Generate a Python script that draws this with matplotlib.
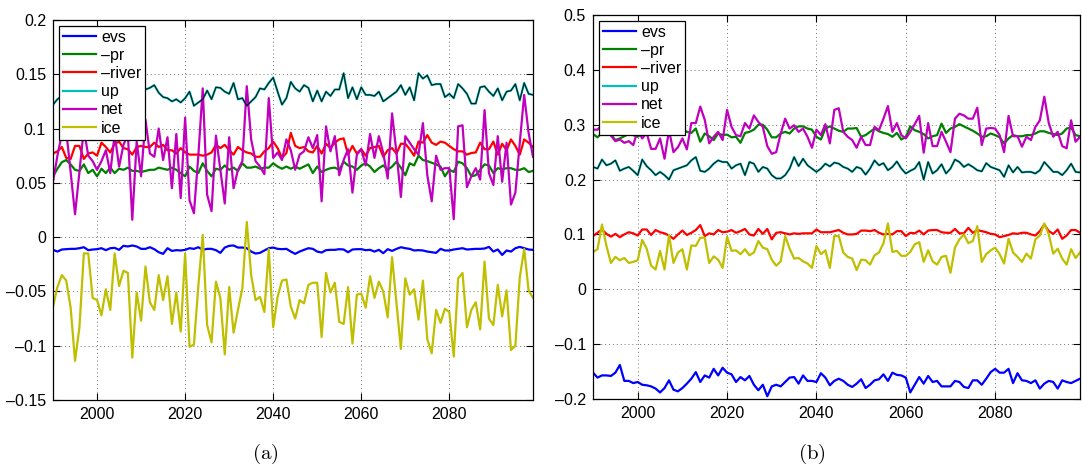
import numpy as np
import matplotlib
matplotlib.use('Agg')
import matplotlib.pyplot as plt

plt.rcParams['font.family'] = ['Liberation Sans', 'DejaVu Sans']
plt.rcParams['mathtext.fontset'] = 'cm'

years = np.arange(1990, 2100)

# ---- panel (a) ----
evs_a = [-0.0117, -0.0133, -0.0114, -0.0111, -0.0108, -0.0108, -0.0102, -0.0093, -0.0120, -0.0114,
         -0.0111, -0.0102, -0.0120, -0.0102, -0.0099, -0.0117, -0.0080, -0.0086, -0.0077, -0.0086,
         -0.0108, -0.0108, -0.0093, -0.0111, -0.0139, -0.0154, -0.0102, -0.0127, -0.0120, -0.0123,
         -0.0117, -0.0102, -0.0108, -0.0093, -0.0117, -0.0108, -0.0108, -0.0120, -0.0145, -0.0096,
         -0.0080, -0.0077, -0.0096, -0.0096, -0.0102, -0.0133, -0.0151, -0.0145, -0.0123, -0.0102,
         -0.0096, -0.0108, -0.0111, -0.0108, -0.0133, -0.0154, -0.0133, -0.0117, -0.0102, -0.0108,
         -0.0133, -0.0142, -0.0120, -0.0117, -0.0117, -0.0111, -0.0114, -0.0139, -0.0114, -0.0111,
         -0.0111, -0.0120, -0.0117, -0.0133, -0.0117, -0.0148, -0.0111, -0.0127, -0.0108, -0.0093,
         -0.0102, -0.0108, -0.0123, -0.0120, -0.0123, -0.0133, -0.0139, -0.0145, -0.0108, -0.0123,
         -0.0123, -0.0114, -0.0108, -0.0102, -0.0114, -0.0111, -0.0108, -0.0108, -0.0105, -0.0090,
         -0.0133, -0.0114, -0.0164, -0.0123, -0.0133, -0.0102, -0.0090, -0.0102, -0.0114, -0.0117]
pr_a = [0.056, 0.063, 0.069, 0.071, 0.067, 0.062, 0.061, 0.067, 0.059, 0.062,
        0.056, 0.063, 0.059, 0.064, 0.059, 0.063, 0.062, 0.064, 0.061, 0.061,
        0.060, 0.061, 0.062, 0.062, 0.064, 0.063, 0.062, 0.064, 0.062, 0.059,
        0.056, 0.065, 0.061, 0.059, 0.068, 0.061, 0.056, 0.063, 0.062, 0.066,
        0.062, 0.064, 0.061, 0.068, 0.064, 0.064, 0.065, 0.063, 0.064, 0.064,
        0.068, 0.065, 0.063, 0.065, 0.063, 0.065, 0.063, 0.065, 0.067, 0.059,
        0.065, 0.060, 0.062, 0.0635, 0.064, 0.062, 0.0695, 0.066, 0.065, 0.062,
        0.066, 0.068, 0.065, 0.060, 0.0635, 0.066, 0.062, 0.065, 0.0695, 0.064,
        0.057, 0.068, 0.066, 0.075, 0.071, 0.070, 0.0685, 0.067, 0.065, 0.056,
        0.062, 0.060, 0.0695, 0.068, 0.0635, 0.056, 0.057, 0.062, 0.067, 0.066,
        0.059, 0.0635, 0.0625, 0.0635, 0.0635, 0.062, 0.062, 0.0635, 0.060, 0.061]
river_a = [0.077, 0.079, 0.083, 0.073, 0.072, 0.084, 0.084, 0.072, 0.077, 0.078,
           0.075, 0.087, 0.083, 0.078, 0.086, 0.088, 0.082, 0.081, 0.076, 0.083,
           0.084, 0.083, 0.083, 0.087, 0.083, 0.085, 0.080, 0.080, 0.077, 0.082,
           0.078, 0.076, 0.076, 0.076, 0.075, 0.076, 0.078, 0.085, 0.082, 0.085,
           0.080, 0.076, 0.083, 0.080, 0.078, 0.077, 0.074, 0.074, 0.079, 0.082,
           0.088, 0.082, 0.073, 0.0775, 0.096, 0.084, 0.082, 0.083, 0.079, 0.078,
           0.084, 0.077, 0.086, 0.082, 0.087, 0.090, 0.091, 0.076, 0.084, 0.077,
           0.081, 0.075, 0.082, 0.083, 0.084, 0.074, 0.080, 0.082, 0.077, 0.086,
           0.086, 0.081, 0.075, 0.088, 0.087, 0.094, 0.087, 0.085, 0.088, 0.087,
           0.084, 0.081, 0.079, 0.079, 0.076, 0.0775, 0.078, 0.087, 0.081, 0.081,
           0.088, 0.076, 0.086, 0.080, 0.090, 0.084, 0.076, 0.090, 0.087, 0.083]
up_a = [0.122, 0.127, 0.130, 0.133, 0.129, 0.135, 0.131, 0.136, 0.133, 0.134,
        0.130, 0.135, 0.132, 0.137, 0.133, 0.136, 0.131, 0.138, 0.134, 0.133,
        0.134, 0.136, 0.1375, 0.140, 0.133, 0.129, 0.128, 0.125, 0.127, 0.124,
        0.128, 0.134, 0.121, 0.124, 0.127, 0.135, 0.127, 0.138, 0.1375, 0.134,
        0.132, 0.142, 0.127, 0.128, 0.121, 0.125, 0.129, 0.137, 0.136, 0.142,
        0.147, 0.134, 0.122, 0.128, 0.143, 0.137, 0.134, 0.140, 0.1375, 0.125,
        0.135, 0.125, 0.134, 0.130, 0.136, 0.136, 0.151, 0.128, 0.138, 0.127,
        0.138, 0.131, 0.131, 0.130, 0.134, 0.125, 0.128, 0.131, 0.134, 0.140,
        0.131, 0.138, 0.126, 0.151, 0.146, 0.149, 0.140, 0.141, 0.141, 0.129,
        0.132, 0.128, 0.141, 0.137, 0.132, 0.123, 0.123, 0.138, 0.139, 0.134,
        0.130, 0.137, 0.126, 0.134, 0.135, 0.141, 0.126, 0.142, 0.132, 0.131]
net_a = [0.051, 0.075, 0.095, 0.098, 0.060, 0.021, 0.060, 0.100, 0.075, 0.070,
         0.062, 0.070, 0.080, 0.059, 0.095, 0.065, 0.085, 0.095, 0.016, 0.088,
         0.056, 0.108, 0.077, 0.074, 0.100, 0.071, 0.092, 0.045, 0.095, 0.036,
         0.110, 0.034, 0.022, 0.075, 0.137, 0.039, 0.024, 0.0935, 0.062, 0.031,
         0.092, 0.045, 0.062, 0.070, 0.139, 0.090, 0.070, 0.065, 0.058, 0.128,
         0.073, 0.078, 0.071, 0.090, 0.080, 0.062, 0.076, 0.079, 0.092, 0.082,
         0.094, 0.033, 0.102, 0.079, 0.093, 0.057, 0.071, 0.081, 0.041, 0.076,
         0.081, 0.066, 0.095, 0.073, 0.093, 0.0775, 0.054, 0.114, 0.0775, 0.037,
         0.093, 0.087, 0.081, 0.076, 0.105, 0.057, 0.033, 0.075, 0.062, 0.0635,
         0.0635, 0.0165, 0.102, 0.103, 0.046, 0.056, 0.0635, 0.053, 0.117, 0.059,
         0.048, 0.093, 0.051, 0.087, 0.030, 0.041, 0.087, 0.131, 0.096, 0.074]
ice_a = [-0.064, -0.046, -0.035, -0.040, -0.065, -0.114, -0.083, -0.015, -0.015, -0.056,
         -0.058, -0.072, -0.048, -0.067, -0.015, -0.045, -0.031, -0.033, -0.111, -0.051,
         -0.077, -0.027, -0.060, -0.067, -0.035, -0.058, -0.036, -0.080, -0.051, -0.087,
         -0.015, -0.101, -0.099, -0.045, 0.002, -0.081, -0.097, -0.041, -0.056, -0.108,
         -0.046, -0.088, -0.067, -0.047, 0.014, -0.035, -0.058, -0.055, -0.069, -0.011,
         -0.083, -0.055, -0.040, -0.039, -0.064, -0.075, -0.058, -0.061, -0.044, -0.042,
         -0.042, -0.092, -0.033, -0.051, -0.042, -0.078, -0.080, -0.046, -0.098, -0.053,
         -0.052, -0.065, -0.036, -0.056, -0.041, -0.050, -0.074, -0.0185, -0.061, -0.103,
         -0.038, -0.053, -0.048, -0.076, -0.040, -0.094, -0.107, -0.067, -0.079, -0.066,
         -0.069, -0.110, -0.038, -0.033, -0.083, -0.067, -0.060, -0.085, -0.0225, -0.075,
         -0.081, -0.044, -0.073, -0.049, -0.104, -0.100, -0.037, -0.011, -0.049, -0.056]

# ---- panel (b) ----
evs_b = [-0.152, -0.161, -0.157, -0.157, -0.158, -0.152, -0.138, -0.167, -0.167, -0.171,
         -0.169, -0.174, -0.175, -0.177, -0.181, -0.188, -0.180, -0.166, -0.183, -0.186,
         -0.180, -0.172, -0.163, -0.151, -0.169, -0.157, -0.161, -0.145, -0.157, -0.143,
         -0.152, -0.155, -0.169, -0.160, -0.166, -0.158, -0.174, -0.184, -0.174, -0.195,
         -0.177, -0.174, -0.177, -0.169, -0.161, -0.160, -0.172, -0.157, -0.167, -0.167,
         -0.169, -0.153, -0.161, -0.175, -0.167, -0.163, -0.167, -0.174, -0.178, -0.172,
         -0.164, -0.180, -0.174, -0.166, -0.164, -0.155, -0.167, -0.152, -0.156, -0.157,
         -0.161, -0.188, -0.174, -0.160, -0.172, -0.158, -0.169, -0.167, -0.177, -0.177,
         -0.177, -0.167, -0.169, -0.178, -0.180, -0.166, -0.166, -0.174, -0.163, -0.151,
         -0.145, -0.152, -0.152, -0.145, -0.171, -0.153, -0.166, -0.167, -0.171, -0.166,
         -0.181, -0.172, -0.167, -0.169, -0.181, -0.166, -0.169, -0.171, -0.167, -0.163]
pr_b = [0.283, 0.277, 0.285, 0.288, 0.282, 0.272, 0.275, 0.279, 0.283, 0.281,
        0.278, 0.284, 0.287, 0.281, 0.290, 0.286, 0.282, 0.284, 0.291, 0.289,
        0.293, 0.287, 0.285, 0.293, 0.269, 0.284, 0.279, 0.272, 0.284, 0.281,
        0.282, 0.277, 0.278, 0.267, 0.285, 0.287, 0.291, 0.300, 0.300, 0.291,
        0.277, 0.277, 0.284, 0.287, 0.284, 0.293, 0.297, 0.297, 0.293, 0.291,
        0.278, 0.273, 0.293, 0.297, 0.293, 0.289, 0.287, 0.293, 0.293, 0.294,
        0.278, 0.281, 0.287, 0.293, 0.288, 0.285, 0.283, 0.278, 0.285, 0.273,
        0.278, 0.297, 0.290, 0.287, 0.283, 0.275, 0.279, 0.281, 0.302, 0.285,
        0.293, 0.296, 0.301, 0.297, 0.293, 0.289, 0.284, 0.278, 0.279, 0.284,
        0.281, 0.277, 0.266, 0.275, 0.281, 0.279, 0.279, 0.281, 0.281, 0.284,
        0.288, 0.288, 0.285, 0.283, 0.281, 0.284, 0.293, 0.295, 0.281, 0.279]
river_b = [0.097, 0.103, 0.109, 0.101, 0.096, 0.101, 0.095, 0.100, 0.104, 0.102,
           0.098, 0.109, 0.109, 0.099, 0.108, 0.104, 0.102, 0.098, 0.092, 0.100,
           0.107, 0.099, 0.103, 0.108, 0.117, 0.097, 0.102, 0.100, 0.108, 0.104,
           0.105, 0.108, 0.103, 0.106, 0.110, 0.100, 0.098, 0.110, 0.101, 0.110,
           0.091, 0.103, 0.104, 0.102, 0.100, 0.102, 0.101, 0.102, 0.102, 0.102,
           0.109, 0.104, 0.104, 0.104, 0.106, 0.108, 0.103, 0.100, 0.100, 0.101,
           0.107, 0.107, 0.106, 0.108, 0.103, 0.100, 0.101, 0.100, 0.106, 0.106,
           0.097, 0.103, 0.102, 0.107, 0.100, 0.107, 0.108, 0.108, 0.104, 0.103,
           0.103, 0.110, 0.102, 0.102, 0.112, 0.103, 0.108, 0.106, 0.104, 0.101,
           0.100, 0.095, 0.097, 0.099, 0.102, 0.101, 0.103, 0.103, 0.100, 0.098,
           0.106, 0.118, 0.106, 0.101, 0.109, 0.092, 0.098, 0.108, 0.108, 0.103]
up_b = [0.223, 0.220, 0.2365, 0.226, 0.229, 0.235, 0.216, 0.220, 0.223, 0.216,
        0.208, 0.2365, 0.2245, 0.217, 0.208, 0.214, 0.208, 0.200, 0.217, 0.220,
        0.223, 0.226, 0.235, 0.241, 0.216, 0.214, 0.220, 0.229, 0.235, 0.232,
        0.232, 0.220, 0.226, 0.229, 0.208, 0.232, 0.229, 0.214, 0.223, 0.220,
        0.208, 0.202, 0.202, 0.208, 0.220, 0.241, 0.2245, 0.238, 0.226, 0.220,
        0.214, 0.220, 0.229, 0.224, 0.231, 0.229, 0.223, 0.220, 0.214, 0.223,
        0.220, 0.209, 0.220, 0.235, 0.226, 0.230, 0.217, 0.223, 0.233, 0.220,
        0.211, 0.216, 0.220, 0.232, 0.200, 0.232, 0.211, 0.217, 0.228, 0.211,
        0.220, 0.2365, 0.232, 0.223, 0.228, 0.223, 0.217, 0.215, 0.230, 0.223,
        0.220, 0.217, 0.205, 0.226, 0.213, 0.223, 0.213, 0.214, 0.214, 0.211,
        0.217, 0.232, 0.223, 0.214, 0.214, 0.208, 0.217, 0.229, 0.214, 0.213]
net_b = [0.291, 0.291, 0.300, 0.292, 0.280, 0.270, 0.273, 0.267, 0.270, 0.263,
         0.290, 0.275, 0.285, 0.256, 0.256, 0.275, 0.238, 0.290, 0.250, 0.259,
         0.275, 0.255, 0.303, 0.303, 0.333, 0.309, 0.266, 0.278, 0.287, 0.272,
         0.327, 0.296, 0.281, 0.279, 0.303, 0.293, 0.317, 0.305, 0.296, 0.261,
         0.247, 0.250, 0.284, 0.311, 0.293, 0.299, 0.287, 0.293, 0.278, 0.258,
         0.291, 0.281, 0.301, 0.266, 0.327, 0.330, 0.287, 0.278, 0.272, 0.258,
         0.278, 0.263, 0.263, 0.296, 0.290, 0.311, 0.334, 0.287, 0.303, 0.281,
         0.275, 0.287, 0.301, 0.316, 0.249, 0.303, 0.261, 0.261, 0.287, 0.269,
         0.250, 0.311, 0.320, 0.317, 0.311, 0.311, 0.331, 0.263, 0.293, 0.294,
         0.293, 0.281, 0.250, 0.316, 0.279, 0.279, 0.260, 0.278, 0.272, 0.296,
         0.308, 0.351, 0.303, 0.278, 0.287, 0.261, 0.257, 0.308, 0.269, 0.278]
ice_b = [0.068, 0.073, 0.118, 0.079, 0.048, 0.059, 0.053, 0.057, 0.048, 0.050,
         0.053, 0.090, 0.074, 0.043, 0.036, 0.070, 0.036, 0.099, 0.048, 0.067,
         0.073, 0.036, 0.080, 0.079, 0.094, 0.094, 0.048, 0.060, 0.054, 0.039,
         0.096, 0.070, 0.071, 0.064, 0.073, 0.062, 0.067, 0.088, 0.076, 0.073,
         0.054, 0.043, 0.051, 0.097, 0.074, 0.056, 0.057, 0.051, 0.047, 0.039,
         0.079, 0.064, 0.071, 0.039, 0.097, 0.097, 0.067, 0.059, 0.056, 0.035,
         0.054, 0.053, 0.045, 0.062, 0.067, 0.084, 0.120, 0.068, 0.070, 0.061,
         0.061, 0.068, 0.082, 0.086, 0.050, 0.071, 0.051, 0.045, 0.059, 0.061,
         0.030, 0.076, 0.091, 0.100, 0.084, 0.088, 0.115, 0.050, 0.064, 0.071,
         0.076, 0.064, 0.047, 0.092, 0.067, 0.059, 0.050, 0.065, 0.056, 0.091,
         0.098, 0.120, 0.100, 0.065, 0.074, 0.056, 0.045, 0.073, 0.057, 0.067]

labels = ['evs', '\u2013pr', '\u2013river', 'up', 'net', 'ice']
colors = ['#0000ff', '#008000', '#ff0000', '#00bfbf', '#bf00bf', '#bfbf00']

yticks_a = [-0.15, -0.1, -0.05, 0, 0.05, 0.1, 0.15, 0.2]
yticks_b = [-0.2, -0.1, 0, 0.1, 0.2, 0.3, 0.4, 0.5]
xticks = [2000, 2020, 2040, 2060, 2080]

panel_a = [evs_a, pr_a, river_a, up_a, net_a, ice_a]
panel_b = [evs_b, pr_b, river_b, up_b, net_b, ice_b]
for s in panel_a + panel_b:
    assert len(s) == len(years), len(s)


def tick_text(v):
    return f'{v:g}'.replace('-', '\u2013')


def draw_panel(ax, series, yticks):
    for s, lab, c in zip(series, labels, colors):
        ax.plot(years, s, color=c, lw=1.6, label=lab)
    # thin dark trace drawn on top of 'up'
    ax.plot(years, series[3], color='#001818', lw=0.8)
    ax.set_xlim(1990, 2099)
    ax.set_ylim(yticks[0], yticks[-1])
    ax.set_xticks(xticks)
    ax.set_yticks(yticks)
    ax.set_yticklabels([tick_text(v) for v in yticks])
    ax.tick_params(direction='in', top=True, right=True, length=5, width=0.8,
                   labelsize=11.5, pad=5)
    ax.set_axisbelow(True)
    ax.grid(True, linestyle=(0, (1, 3)), color='0.45', lw=0.7)
    for sp in ax.spines.values():
        sp.set_linewidth(0.9)
    leg = ax.legend(loc='upper left', fancybox=False, edgecolor='black', framealpha=1,
                    fontsize=11.5, handlelength=2.1, handletextpad=0.3,
                    labelspacing=0.2, borderaxespad=0.35, borderpad=0.25)
    leg.get_frame().set_linewidth(0.9)


fig = plt.figure(figsize=(10.82, 4.67), dpi=100)
ax_a = fig.add_axes([0.0490, 0.1435, 0.4436, 0.8137])
ax_b = fig.add_axes([0.5481, 0.1456, 0.4501, 0.8223])

draw_panel(ax_a, panel_a, yticks_a)
draw_panel(ax_b, panel_b, yticks_b)

fig.text(0.245, 0.028, r'$\mathrm{(a)}$', fontsize=15, ha='center', va='center')
fig.text(0.750, 0.028, r'$\mathrm{(b)}$', fontsize=15, ha='center', va='center')

fig.savefig('out.png', dpi=100)
